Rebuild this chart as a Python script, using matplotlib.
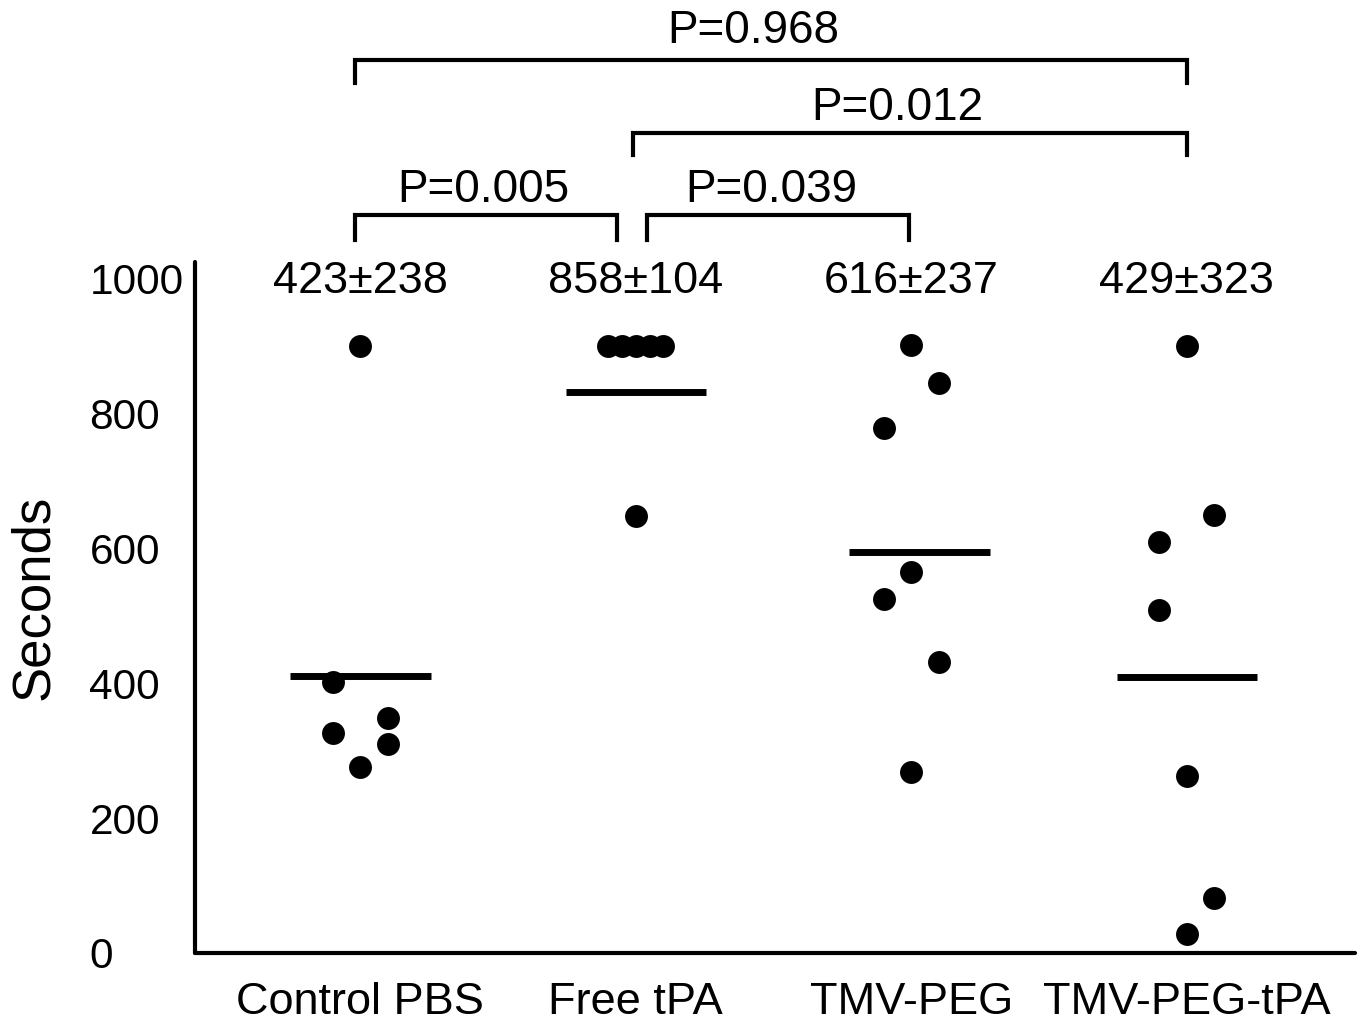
import matplotlib
matplotlib.use('Agg')
import matplotlib.pyplot as plt

plt.rcParams['font.family'] = ['Liberation Sans', 'DejaVu Sans']

######## data
groups = ['Control PBS', 'Free tPA', 'TMV-PEG', 'TMV-PEG-tPA']

control_vals = [900, 401, 348, 326, 310, 276]
control_jit = [0, -0.1, 0.1, -0.1, 0.1, 0]
free_vals = [900, 900, 900, 900, 900, 647]
free_jit = [-0.1, -0.05, 0, 0.05, 0.1, 0]
tmv_vals = [901, 844, 778, 564, 524, 431, 268]
tmv_jit = [0, 0.1, -0.1, 0, -0.1, 0.1, 0]
tmvtpa_vals = [900, 649, 609, 508, 262, 81, 28]
tmvtpa_jit = [0, 0.1, -0.1, -0.1, 0, 0.1, 0]

mean_lines = [410, 831, 594, 409]
summary = ['423\u00b1238', '858\u00b1104', '616\u00b1237', '429\u00b1323']
p_labels = ['P=0.968', 'P=0.012', 'P=0.005', 'P=0.039']

all_vals = [control_vals, free_vals, tmv_vals, tmvtpa_vals]
all_jit = [control_jit, free_jit, tmv_jit, tmvtpa_jit]

######## figure
fig = plt.figure(figsize=(13.63, 10.25), dpi=100)
ax = fig.add_axes([195/1363, 72/1025, 1160/1363, 691/1025])

for i, (vals, jit) in enumerate(zip(all_vals, all_jit)):
    ax.plot([i + j for j in jit], vals, 'o', color='black', markersize=16.5,
            markeredgewidth=0, clip_on=False, zorder=3)

# mean bars (TMV-PEG bar sits a bit right of centre)
bar_shift = [0, 0, 0.03, 0]
for i, m in enumerate(mean_lines):
    c = i + bar_shift[i]
    ax.plot([c - 0.255, c + 0.255], [m, m], color='black', lw=5,
            solid_capstyle='butt', zorder=2)

# mean +- sd text
for i, s in enumerate(summary):
    ax.text(i, 978, s, ha='center', va='baseline', fontsize=32.5, clip_on=False)

# significance brackets: x0, x1, top, drop, text x, text baseline
brackets = [(-0.018, 3.0, 1324, 1290, 1.426, 1348),
            (0.99, 3.0, 1215, 1182, 1.95, 1234),
            (-0.018, 0.933, 1093, 1056, 0.446, 1113),
            (1.04, 1.99, 1093, 1056, 1.49, 1113)]
for (x0, x1, top, bot, tx, ty), lab in zip(brackets, p_labels):
    ax.plot([x0, x0, x1, x1], [bot, top, top, bot], color='black', lw=3,
            clip_on=False, solid_joinstyle='miter')
    ax.text(tx, ty, lab, ha='center', va='baseline', fontsize=33, clip_on=False)

ax.set_xlim(-0.6, 3.61)
ax.set_ylim(0, 1024)
ax.set_xticks(range(len(groups)))
ax.set_xticklabels(groups, fontsize=32.5)
ax.set_yticks([0, 200, 400, 600, 800, 1000])
ax.tick_params(axis='y', length=0, pad=76, labelsize=30.5)
ax.tick_params(axis='x', length=0, pad=21)
for t in ax.get_yticklabels():
    t.set_horizontalalignment('left')

for side in ['top', 'right']:
    ax.spines[side].set_visible(False)
for side in ['left', 'bottom']:
    ax.spines[side].set_linewidth(3)
    ax.spines[side].set_capstyle('round')

ax.set_ylabel('Seconds', fontsize=38)
ax.yaxis.set_label_coords(-0.117, 0.514)

fig.savefig('out.png', dpi=100)
